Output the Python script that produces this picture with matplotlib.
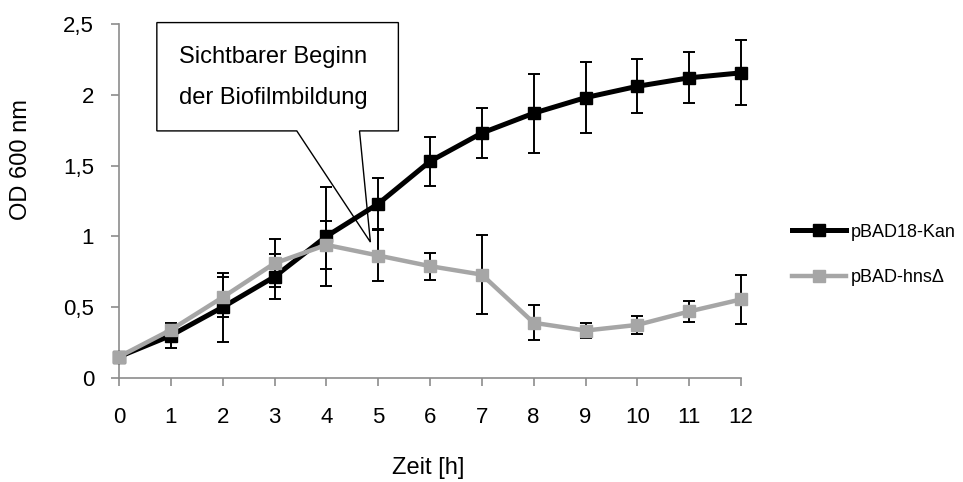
import matplotlib
matplotlib.use("Agg")
import matplotlib.pyplot as plt
from matplotlib.patches import Polygon
from matplotlib.lines import Line2D

plt.rcParams['font.family'] = ['Liberation Sans', 'DejaVu Sans']

# data
zeit = [0, 1, 2, 3, 4, 5, 6, 7, 8, 9, 10, 11, 12]
kan = [0.15, 0.30, 0.50, 0.715, 1.00, 1.23, 1.53, 1.73, 1.87, 1.98, 2.06, 2.12, 2.155]
kan_err = [0.0, 0.085, 0.245, 0.16, 0.35, 0.18, 0.175, 0.175, 0.28, 0.25, 0.19, 0.18, 0.23]
hns = [0.15, 0.34, 0.57, 0.81, 0.94, 0.865, 0.79, 0.73, 0.39, 0.335, 0.375, 0.47, 0.555]
hns_err = [0.0, 0.03, 0.14, 0.17, 0.17, 0.18, 0.095, 0.28, 0.125, 0.055, 0.065, 0.075, 0.175]
yticks = [0, 0.5, 1, 1.5, 2, 2.5]
ytick_labels = ["0", "0,5", "1", "1,5", "2", "2,5"]
labels = ["pBAD18-Kan", "pBAD-hns\u0394"]

grey = "#A6A6A6"
axcol = "#8C8C8C"

fig = plt.figure(figsize=(9.63, 4.82), dpi=100)
ax = fig.add_axes([119 / 963, 1 - 378 / 482, 622 / 963, 354 / 482])

# callout box (drawn under the data)
box = Polygon([(0.73, 2.51), (5.39, 2.51), (5.39, 1.745), (4.64, 1.745),
               (4.85, 0.96), (3.43, 1.745), (0.73, 1.745)],
              closed=True, facecolor="white", edgecolor="black", lw=1.0,
              clip_on=False, zorder=1)
ax.add_patch(box)
ax.text(2.97, 2.27, "Sichtbarer Beginn", ha="center", va="center", fontsize=17, zorder=2)
ax.text(2.97, 1.98, "der Biofilmbildung", ha="center", va="center", fontsize=17, zorder=2)

ax.errorbar(zeit, kan, yerr=kan_err, fmt="none", ecolor="black", elinewidth=1.4,
            capsize=4, capthick=1.4, zorder=3, clip_on=False)
ax.errorbar(zeit, hns, yerr=hns_err, fmt="none", ecolor="black", elinewidth=1.4,
            capsize=4, capthick=1.4, zorder=3, clip_on=False)
ax.plot(zeit, kan, color="black", lw=3.6, marker="s", ms=8, zorder=4, clip_on=False)
ax.plot(zeit, hns, color=grey, lw=3.2, marker="s", ms=8, zorder=5, clip_on=False)

ax.set_xlim(0, 12)
ax.set_ylim(0, 2.5)
ax.set_xticks(zeit)
ax.set_yticks(yticks)
ax.set_yticklabels(ytick_labels)
for s in ["top", "right"]:
    ax.spines[s].set_visible(False)
for s in ["left", "bottom"]:
    ax.spines[s].set_color(axcol)
    ax.spines[s].set_linewidth(1.2)
ax.tick_params(axis="both", colors=axcol, width=1.2, length=6, labelsize=16,
               labelcolor="black")
ax.tick_params(axis="x", pad=15)
ax.tick_params(axis="y", pad=12)

ax.set_xlabel("Zeit [h]", fontsize=17)
ax.set_ylabel("OD 600 nm", fontsize=17)
ax.xaxis.set_label_coords(0.497, -0.222)
ax.yaxis.set_label_coords(-0.14, 0.616)

handles = [Line2D([], [], color="black", lw=3.6, marker="s", ms=8),
           Line2D([], [], color=grey, lw=3.2, marker="s", ms=8)]
fig.legend(handles, labels, loc="center left", bbox_to_anchor=(792 / 963, 1 - 255 / 482),
           frameon=False, fontsize=13, handlelength=3.0, handletextpad=0.28,
           labelspacing=1.6, borderpad=0, borderaxespad=0)

fig.savefig("out.png", dpi=100)
